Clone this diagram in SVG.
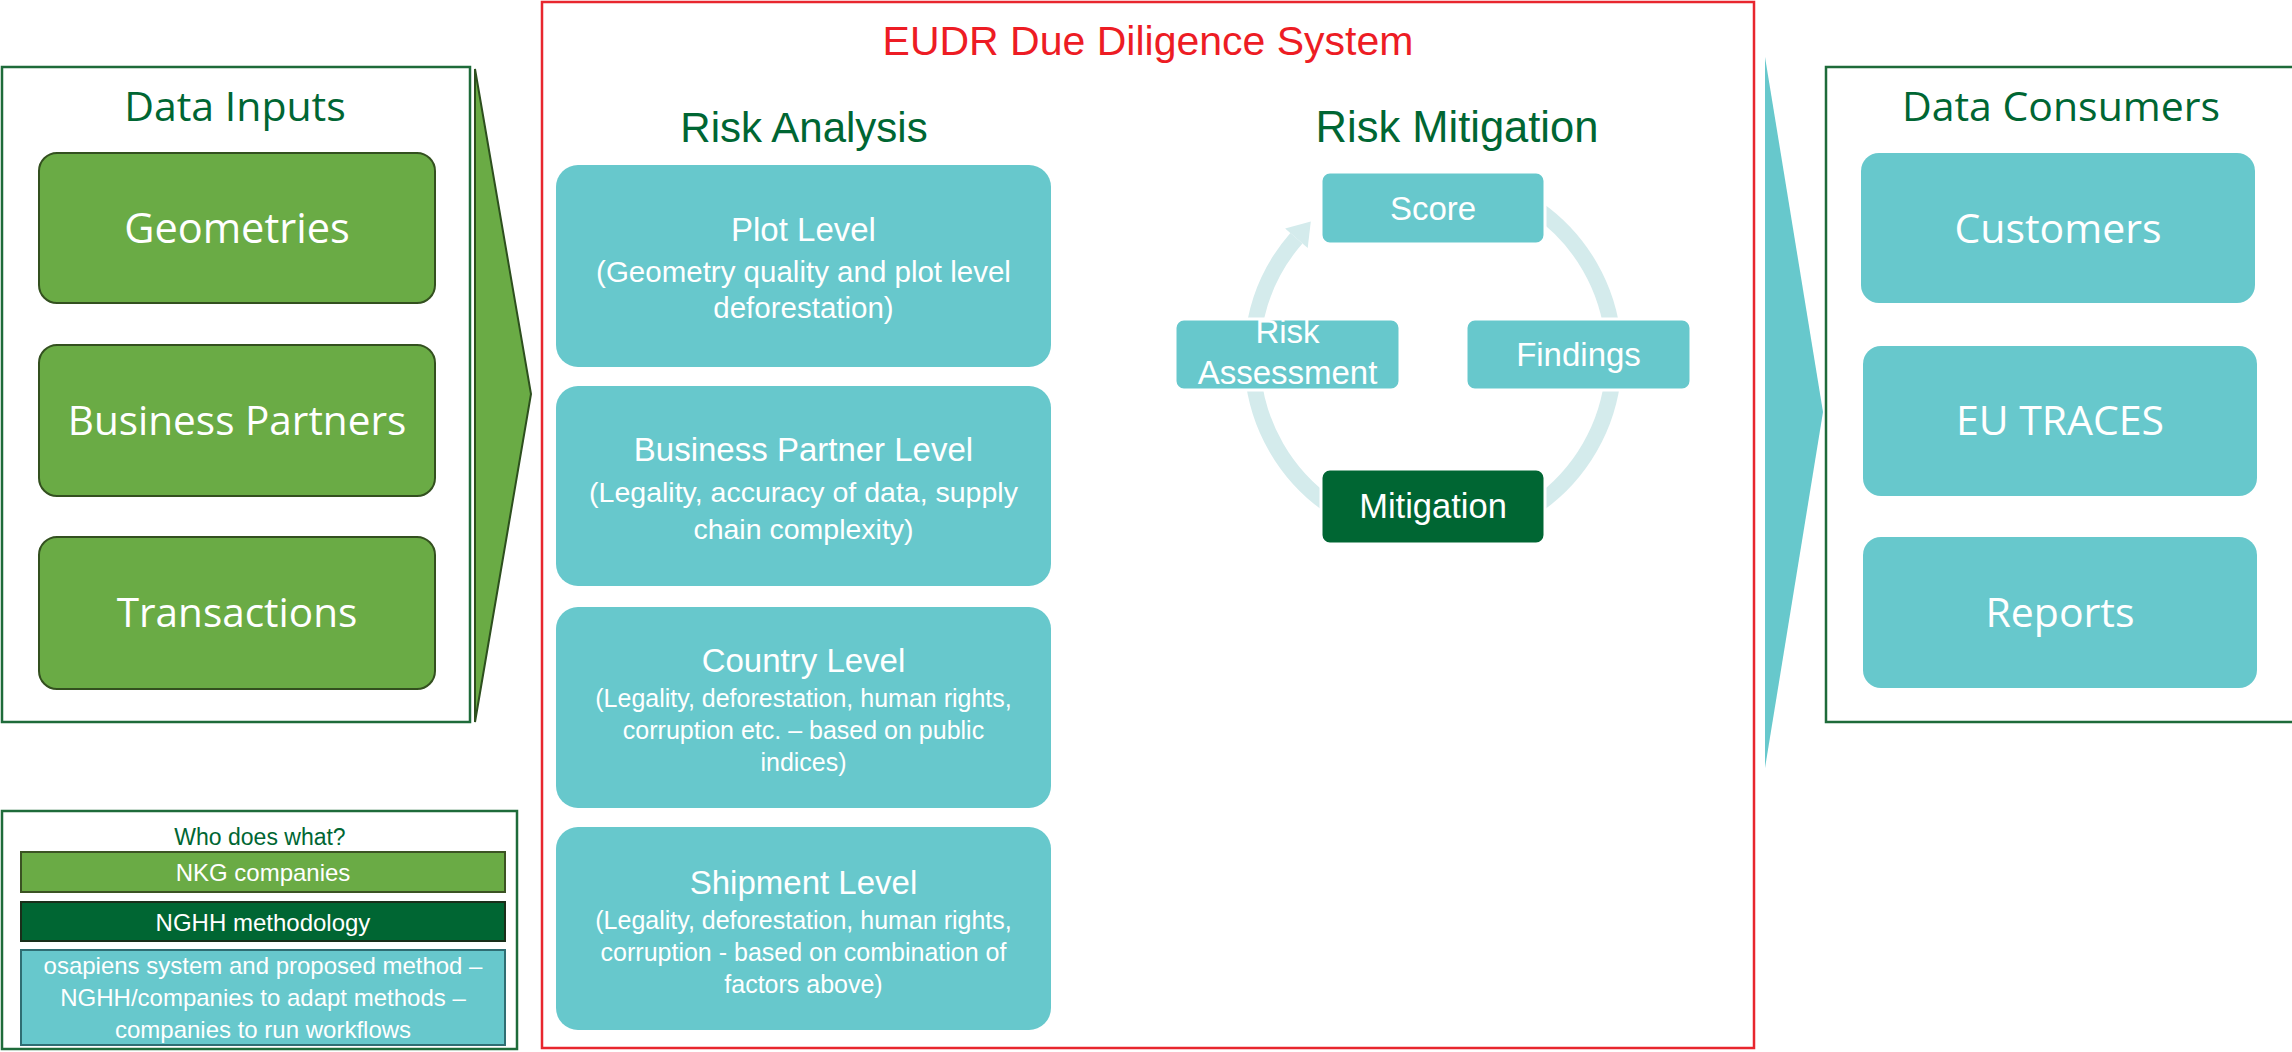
<svg xmlns="http://www.w3.org/2000/svg" width="2292" height="1052" viewBox="0 0 2292 1052">
<style>
.os{font-family:"Open Sans","Liberation Sans",sans-serif}
.cb{font-family:"Liberation Sans",Arial,sans-serif}
.frame{fill:none;stroke:#1E6B3A;stroke-width:2.5}
.gbox{fill:#6AAB45;stroke:#33501F;stroke-width:2}
.tbox{fill:#67C8CC}
.wt{fill:#ffffff;text-anchor:middle}
.hd{fill:#006633;text-anchor:middle}
.ring{fill:none;stroke:#D4EBEC;stroke-width:16}
.cyc{fill:#67C8CC;stroke:#ffffff;stroke-width:3}
</style>
<rect width="2292" height="1052" fill="#ffffff"/>

<g id="connectors">
  <polygon id="arrow-in" points="475,69 531,394 475,722" fill="#6AAB45" stroke="#2D4F1E" stroke-width="2"/>
  <polygon id="arrow-out" points="1765,57 1823,412 1765,768" fill="#67C8CC"/>
  <path class="ring" d="M1252.7 341.2 A181 181 0 0 1 1296.4 238.2"/>
  <polygon points="1310.8,221.6 1285.1,228.4 1307.7,248.0" fill="#D4EBEC"/>
  <path class="ring" d="M1536.8 208.7 A181 181 0 0 1 1613.3 341.2"/>
  <path class="ring" d="M1613.3 372.8 A181 181 0 0 1 1536.8 505.3"/>
  <path class="ring" d="M1329.2 505.3 A181 181 0 0 1 1252.7 372.8"/>
</g>

<g id="data-inputs">
  <rect class="frame" x="2" y="67" width="468" height="655"/>
  <text class="os hd" x="235" y="121" font-size="41">Data Inputs</text>
</g>
<g id="geometries">
  <rect class="gbox" x="39" y="153" width="396" height="150" rx="18"/>
  <text class="os wt" x="237" y="243" font-size="41.5">Geometries</text>
</g>
<g id="business-partners">
  <rect class="gbox" x="39" y="345" width="396" height="151" rx="18"/>
  <text class="os wt" x="237" y="435" font-size="40.5">Business Partners</text>
</g>
<g id="transactions">
  <rect class="gbox" x="39" y="537" width="396" height="152" rx="18"/>
  <text class="os wt" x="237" y="627" font-size="40.5">Transactions</text>
</g>

<g id="legend">
  <rect class="frame" x="2" y="811" width="515" height="238"/>
  <text class="cb hd" x="260" y="845" font-size="23">Who does what?</text>
</g>
<g id="legend-nkg">
  <rect x="21" y="852" width="484" height="40" fill="#6AAB45" stroke="#3B5323" stroke-width="2"/>
  <text class="cb wt" x="263" y="881" font-size="24">NKG companies</text>
</g>
<g id="legend-nghh">
  <rect x="21" y="902" width="484" height="39" fill="#006633" stroke="#1A2E1A" stroke-width="2"/>
  <text class="cb wt" x="263" y="931" font-size="24">NGHH methodology</text>
</g>
<g id="legend-osapiens">
  <rect x="21" y="950" width="484" height="95" fill="#67C8CC" stroke="#2F6E73" stroke-width="2"/>
  <text class="cb wt" x="263" y="974" font-size="24">osapiens system and proposed method –</text>
  <text class="cb wt" x="263" y="1006" font-size="24">NGHH/companies to adapt methods –</text>
  <text class="cb wt" x="263" y="1038" font-size="24">companies to run workflows</text>
</g>

<g id="eudr-system">
  <rect x="542" y="2" width="1212" height="1046" fill="none" stroke="#E8262E" stroke-width="2.5"/>
  <text class="cb" x="1148" y="55" font-size="41" fill="#ED1C24" text-anchor="middle">EUDR Due Diligence System</text>
  <text class="cb hd" x="804" y="142" font-size="42">Risk Analysis</text>
  <text class="cb hd" x="1457" y="142" font-size="43.5">Risk Mitigation</text>
</g>

<g id="plot-level">
  <rect class="tbox" x="556" y="165" width="495" height="202" rx="22"/>
  <text class="cb wt" x="803.5" y="241" font-size="33">Plot Level</text>
  <text class="cb wt" x="803.5" y="282" font-size="29.5">(Geometry quality and plot level</text>
  <text class="cb wt" x="803.5" y="318" font-size="29.5">deforestation)</text>
</g>
<g id="business-partner-level">
  <rect class="tbox" x="556" y="386" width="495" height="200" rx="22"/>
  <text class="cb wt" x="803.5" y="461" font-size="33">Business Partner Level</text>
  <text class="cb wt" x="803.5" y="502" font-size="28.5">(Legality, accuracy of data, supply</text>
  <text class="cb wt" x="803.5" y="539" font-size="28.5">chain complexity)</text>
</g>
<g id="country-level">
  <rect class="tbox" x="556" y="607" width="495" height="201" rx="22"/>
  <text class="cb wt" x="803.5" y="672" font-size="33">Country Level</text>
  <text class="cb wt" x="803.5" y="707" font-size="25">(Legality, deforestation, human rights,</text>
  <text class="cb wt" x="803.5" y="739" font-size="25">corruption etc. – based on public</text>
  <text class="cb wt" x="803.5" y="771" font-size="25">indices)</text>
</g>
<g id="shipment-level">
  <rect class="tbox" x="556" y="827" width="495" height="203" rx="22"/>
  <text class="cb wt" x="803.5" y="894" font-size="33">Shipment Level</text>
  <text class="cb wt" x="803.5" y="929" font-size="25">(Legality, deforestation, human rights,</text>
  <text class="cb wt" x="803.5" y="961" font-size="25">corruption - based on combination of</text>
  <text class="cb wt" x="803.5" y="993" font-size="25">factors above)</text>
</g>

<g id="score">
  <rect class="cyc" x="1321" y="172" width="224" height="72" rx="9"/>
  <text class="cb wt" x="1433" y="220" font-size="33">Score</text>
</g>
<g id="findings">
  <rect class="cyc" x="1466" y="319" width="225" height="71" rx="9"/>
  <text class="cb wt" x="1578.5" y="366" font-size="33">Findings</text>
</g>
<g id="risk-assessment">
  <rect class="cyc" x="1175" y="319" width="225" height="71" rx="9"/>
  <text class="cb wt" x="1287.5" y="343" font-size="33">Risk</text>
  <text class="cb wt" x="1287.5" y="384" font-size="33">Assessment</text>
</g>
<g id="mitigation">
  <rect x="1321" y="469" width="224" height="75" rx="9" fill="#006633" stroke="#ffffff" stroke-width="3"/>
  <text class="cb wt" x="1433" y="518" font-size="34.5">Mitigation</text>
</g>

<g id="data-consumers">
  <rect class="frame" x="1826" y="67" width="470" height="655"/>
  <text class="os hd" x="2061" y="121" font-size="41">Data Consumers</text>
</g>
<g id="customers">
  <rect class="tbox" x="1861" y="153" width="394" height="150" rx="18"/>
  <text class="os wt" x="2058" y="243" font-size="41">Customers</text>
</g>
<g id="eu-traces">
  <rect class="tbox" x="1863" y="346" width="394" height="150" rx="18"/>
  <text class="os wt" x="2060" y="435" font-size="41">EU TRACES</text>
</g>
<g id="reports">
  <rect class="tbox" x="1863" y="537" width="394" height="151" rx="18"/>
  <text class="os wt" x="2060" y="627" font-size="41">Reports</text>
</g>
</svg>
